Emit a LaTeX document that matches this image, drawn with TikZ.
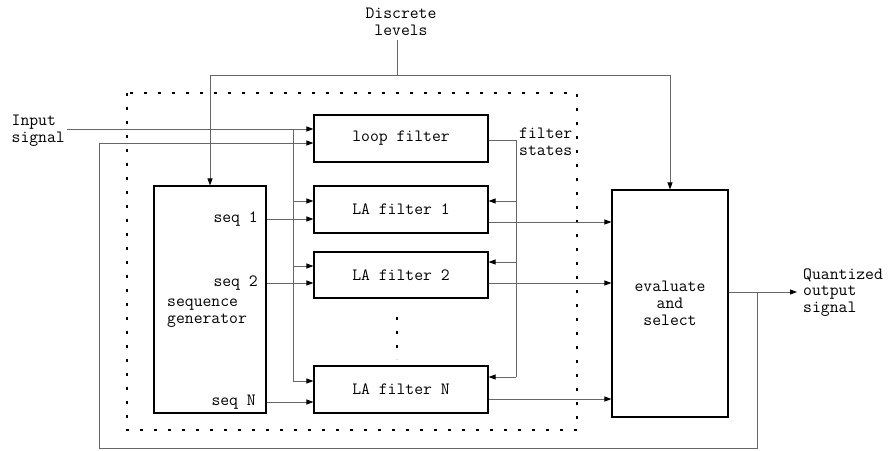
\documentclass[tikz,border=0pt]{standalone}
\usetikzlibrary{arrows.meta}
\usetikzlibrary{calc}
\newcommand{\lbl}{\ttfamily\fontsize{17.2}{16.8}\selectfont}
\tikzset{
  blk/.style={draw, line width=1.1pt, inner sep=0, font=\lbl},
  txt/.style={inner sep=0, font=\lbl},
  wire/.style={draw=black!60, line width=0.9pt},
  arr/.style={wire, -{Triangle[length=7pt,width=5pt,black]}},
  dots/.style={line width=2.6pt, dash pattern=on 2.6pt off 11.4pt}
}

\begin{document}
\begin{tikzpicture}[x=1pt,y=-1pt]
\useasboundingbox (0,0) rectangle (894,450);
% dotted frame round the filters
\draw[dots] (127,93) rectangle (577,430);
% blocks
\node[blk, minimum width=174pt, minimum height=47pt] (loop) at (401,138.5) {loop filter};
\node[blk, minimum width=174pt, minimum height=47pt] (la1) at (401,209.5) {LA filter 1};
\node[blk, minimum width=174pt, minimum height=46pt] (la2) at (401,275) {LA filter 2};
\node[blk, minimum width=174pt, minimum height=47pt] (laN) at (401,389.5) {LA filter N};
\node[blk, minimum width=112pt, minimum height=227pt] (seq) at (210,299.5) {};
\node[blk, minimum width=116pt, minimum height=227pt, align=center] (eval) at (670,303.5) {evaluate\\and\\select};
\draw[dots] (397,317) -- (397,359);
% texts
\node[txt, anchor=east] (s1) at (258,219) {seq 1};
\node[txt, anchor=east] (s2) at (258,283) {seq 2};
\node[txt, anchor=east] (sN) at (256,402) {seq N};
\node[txt, anchor=west, align=left] (sg) at (167,313) {sequence\\generator};
\node[txt, anchor=east, align=left] (in) at (65,131) {Input\\signal};
\node[txt, align=center] (dl) at (401,21.5) {Discrete\\levels};
\node[txt, anchor=west, align=left] (fs) at (519,142) {filter\\states};
\node[txt, anchor=west, align=left] (out) at (803,292.5) {Quantized\\output\\signal};
% discrete levels
\coordinate (top) at (397,75);
\draw[wire] (top |- 0,40) -- (top);
\draw[arr] (top) -| (seq.north);
\draw[arr] (top) -| (eval.north);
% input signal
\coordinate (j) at (293,129);
\draw[arr] (67,129) -- (loop.west |- j);
\draw[wire] (j) -- (293,381);
\foreach \y/\n in {201/la1,266/la2,381/laN}
  \draw[arr] (293,\y) -- (\n.west |- 293,\y);
% sequences
\draw[arr] (seq.east |- s1) -- (la1.west |- s1);
\draw[arr] (seq.east |- s2) -- (la2.west |- s2);
\draw[arr] (seq.east |- sN) -- (laN.west |- sN);
% filter states
\coordinate (st) at (516,140);
\draw[wire] (loop.east |- st) -- (st) -- (516,377);
\foreach \y/\n in {201/la1,262/la2,377/laN}
  \draw[arr] (516,\y) -- (\n.east |- 516,\y);
% outputs of the LA filters
\foreach \y/\n in {222/la1,283/la2,399/laN}
  \draw[arr] (\n.east |- 0,\y) -- (eval.west |- 0,\y);
% output and feedback
\coordinate (fb) at (757,292);
\draw[arr] (eval.east |- fb) -- (797,292);
\draw[arr] (fb) -- (757,448) -- (99,448) -- (99,143) -- (loop.west |- 0,143);
\end{tikzpicture}
\end{document}
